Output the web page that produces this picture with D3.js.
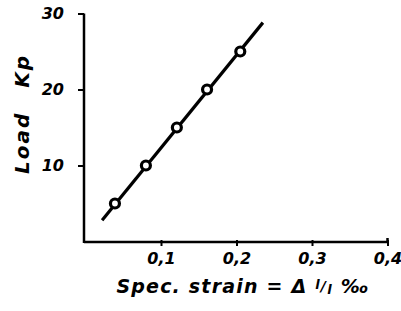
<!DOCTYPE html>
<html><head><meta charset="utf-8">
<script src="https://cdn.jsdelivr.net/npm/d3@7"></script>
<style>body{margin:0;background:#fff}text{font-family:"DejaVu Sans",sans-serif;font-style:italic;font-weight:bold;fill:#000}</style>
</head><body><svg id="c" width="401" height="311"></svg>
<script>
const strain = [0.039, 0.080, 0.121, 0.161, 0.205];
const load = [5, 10, 15, 20, 25];
const fitLine = [[0.022, 2.8], [0.235, 28.8]];
const xTicks = [0.1, 0.2, 0.3, 0.4];
const xTickLabels = ["0,1", "0,2", "0,3", "0,4"];
const yTicks = [10, 20, 30];
const yTickLabels = ["10", "20", "30"];

const svg = d3.select("#c");
const x = d3.scaleLinear().domain([0, 0.4]).range([85.5, 387.5]);
const y = d3.scaleLinear().domain([0, 30]).range([241.5, 13.5]);

// axes
const xAxis = d3.axisBottom(x).tickValues(xTicks).tickSize(4).tickFormat((d,i)=>xTickLabels[i]).tickSizeOuter(0);
const gx = svg.append("g").attr("transform","translate(0,242)").call(xAxis);
gx.select(".domain").attr("d", `M84,0H${x(0.4)}V-4`).attr("stroke","#000").attr("stroke-width",2.5).attr("fill","none");
gx.selectAll(".tick line").attr("stroke","#000").attr("stroke-width",2).attr("y1",-2);
gx.selectAll(".tick text").attr("font-size",16).attr("dy","0.9em").attr("y",8);

const yAxis = d3.axisLeft(y).tickValues(yTicks).tickSize(6).tickFormat((d,i)=>yTickLabels[i]).tickSizeOuter(0);
const gy = svg.append("g").attr("transform","translate(84,0)").call(yAxis);
gy.select(".domain").attr("d", `M0,${y(30)}V243`).attr("stroke","#000").attr("stroke-width",2.5).attr("fill","none");
gy.selectAll(".tick line").attr("stroke","#000").attr("stroke-width",2);
gy.selectAll(".tick text").attr("font-size",16).attr("x",-20);

// fit line
svg.append("path").datum(fitLine)
  .attr("d", d3.line().x(d=>x(d[0])).y(d=>y(d[1])))
  .attr("stroke","#000").attr("stroke-width",3.2).attr("fill","none");

// points
svg.selectAll("circle.p").data(strain).join("circle").attr("class","p")
  .attr("cx",d=>x(d)).attr("cy",(d,i)=>y(load[i])).attr("r",4.5)
  .attr("fill","#fff").attr("stroke","#000").attr("stroke-width",3.2);

// y title
const yt = svg.append("text").attr("transform","translate(29,114) rotate(-90)")
  .attr("text-anchor","middle").attr("font-size",20).attr("letter-spacing",2);
yt.append("tspan").text("Load");
yt.append("tspan").attr("dx",24).text("Kp");

// x title
const xt = svg.append("text").attr("x",243).attr("y",293).attr("text-anchor","middle").attr("font-size",19).attr("letter-spacing",1.2);
xt.append("tspan").text("Spec. strain = Δ ");
xt.append("tspan").attr("font-size",13).attr("dy",-4).text("l");
xt.append("tspan").attr("font-size",14).attr("dy",2).text("/");
xt.append("tspan").attr("font-size",13).attr("dy",3).text("l");
xt.append("tspan").attr("dy",-1).attr("dx",8).text("‰");
</script></body></html>
